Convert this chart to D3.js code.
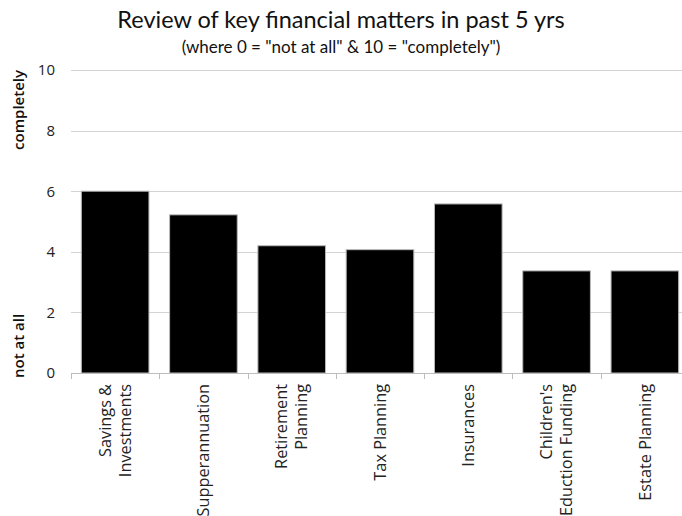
<!DOCTYPE html>
<html>
<head>
<meta charset="utf-8">
<script src="https://cdn.jsdelivr.net/npm/d3@7"></script>
<style>
  html, body { margin: 0; padding: 0; background: #fff; }
  svg { display: block; }
</style>
</head>
<body>
<script>
// Average self-rating of how thoroughly each area was reviewed (0–10)
const categories = [
  ["Savings &", "Investments"],
  ["Supperannuation"],
  ["Retirement", "Planning"],
  ["Tax Planning"],
  ["Insurances"],
  ["Children's", "Eduction Funding"],
  ["Estate Planning"]
];
const values = [6.0, 5.22, 4.2, 4.07, 5.58, 3.37, 3.37];
const yTicks = [0, 2, 4, 6, 8, 10];

const W = 682, H = 516;
const margin = { left: 71, right: -7, top: 70, bottom: 143 };
const plotW = W - margin.left - margin.right;
const plotH = H - margin.top - margin.bottom;

const svg = d3.select("body").append("svg")
  .attr("width", W).attr("height", H);

const keys = categories.map((c, i) => i);
const x = d3.scaleBand().domain(keys).range([margin.left, margin.left + plotW])
  .paddingInner(0.234).paddingOuter(0.117);
const y = d3.scaleLinear().domain([0, 10]).range([margin.top + plotH, margin.top]);

// Title block
svg.append("text")
  .attr("x", 341).attr("y", 28)
  .attr("text-anchor", "middle")
  .style("font-family", "Lato, 'Open Sans', sans-serif")
  .style("font-size", "23.5px")
  .style("fill", "#111")
  .text("Review of key financial matters in past 5 yrs");
svg.append("text")
  .attr("x", 341).attr("y", 53)
  .attr("text-anchor", "middle")
  .style("font-family", "Lato, 'Open Sans', sans-serif")
  .style("font-size", "17px")
  .style("fill", "#111")
  .text('(where 0 = "not at all" & 10 = "completely")');

// Horizontal gridlines
svg.append("g")
  .selectAll("line")
  .data(yTicks.filter(t => t > 0))
  .join("line")
  .attr("x1", margin.left).attr("x2", W)
  .attr("y1", d => Math.round(y(d)) + 0.5).attr("y2", d => Math.round(y(d)) + 0.5)
  .attr("stroke", "#d4d4d4").attr("stroke-width", 1);

// Y axis labels
const yAxis = d3.axisLeft(y).tickValues(yTicks).tickSize(0).tickPadding(16);
const gy = svg.append("g").attr("transform", `translate(${margin.left},0)`).call(yAxis);
gy.select(".domain").remove();
gy.selectAll("text")
  .style("font-family", "'Open Sans', sans-serif")
  .style("font-size", "15px")
  .style("fill", "#222");

// Bars
svg.append("g")
  .selectAll("rect")
  .data(values)
  .join("rect")
  .attr("x", (d, i) => x(i))
  .attr("y", d => y(d))
  .attr("width", x.bandwidth())
  .attr("height", d => y(0) - y(d))
  .attr("fill", "#000")
  .attr("stroke", "#b8b8b8")
  .attr("stroke-width", 1);

// Category axis
const step = x.step();
const xAxisG = svg.append("g");
xAxisG.append("line")
  .attr("x1", margin.left).attr("x2", W)
  .attr("y1", y(0) + 0.5).attr("y2", y(0) + 0.5)
  .attr("stroke", "#bdbdbd");
xAxisG.selectAll("line.tick")
  .data(d3.range(categories.length + 1))
  .join("line")
  .attr("class", "tick")
  .attr("x1", i => Math.round(x(0) - x.step() * x.paddingOuter() + i * step) + 0.5)
  .attr("x2", i => Math.round(x(0) - x.step() * x.paddingOuter() + i * step) + 0.5)
  .attr("y1", y(0)).attr("y2", y(0) + 6)
  .attr("stroke", "#bdbdbd");

const lineGap = 20;
const labels = xAxisG.selectAll("g.lab")
  .data(categories)
  .join("g")
  .attr("class", "lab")
  .attr("transform", (d, i) => `translate(${x(i) + x.bandwidth() / 2},${y(0) + 11}) rotate(-90)`);
labels.each(function (lines) {
  const g = d3.select(this);
  const n = lines.length;
  lines.forEach((t, j) => {
    g.append("text")
      .attr("x", 0)
      .attr("y", (j - (n - 1) / 2) * lineGap)
      .attr("dy", "0.35em")
      .attr("text-anchor", "end")
      .style("font-family", "'Open Sans', sans-serif")
      .style("font-size", "16.3px")
      .style("fill", "#222")
      .text(t);
  });
});

// Scale end descriptors
svg.append("text")
  .attr("transform", `translate(24,${y(10)}) rotate(-90)`)
  .attr("text-anchor", "end")
  .style("font-family", "'Open Sans', sans-serif")
  .style("font-size", "15px")
  .style("font-weight", "600")
  .style("fill", "#111")
  .text("completely");
svg.append("text")
  .attr("transform", `translate(24,${y(0) + 5}) rotate(-90)`)
  .attr("text-anchor", "start")
  .style("font-family", "'Open Sans', sans-serif")
  .style("font-size", "15px")
  .style("font-weight", "600")
  .style("fill", "#111")
  .text("not at all");
</script>
</body>
</html>
